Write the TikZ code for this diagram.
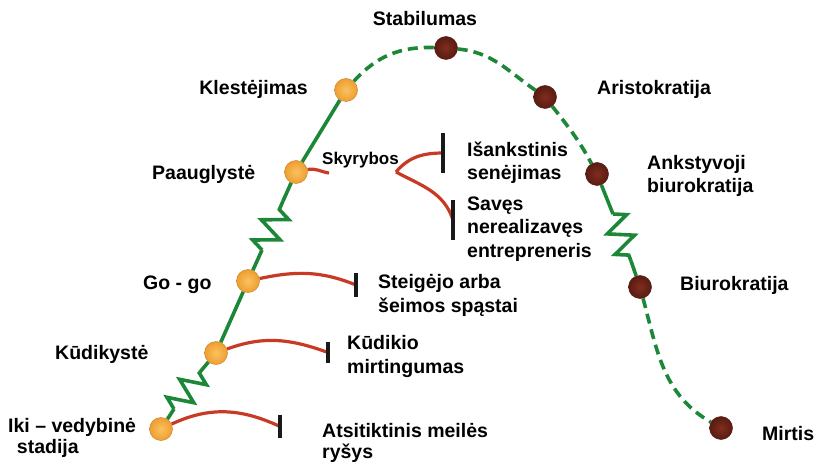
\documentclass[tikz,border=0pt]{standalone}
\usepackage{fontspec}
\setmainfont{Liberation Sans}
\usetikzlibrary{decorations.pathmorphing, backgrounds}

\definecolor{stemgreen}{RGB}{28,135,55}
\definecolor{trapred}{RGB}{200,58,36}
\definecolor{youngout}{RGB}{238,158,48}
\definecolor{youngin}{RGB}{250,194,96}
\definecolor{oldout}{RGB}{88,28,18}
\definecolor{oldin}{RGB}{130,44,30}

\begin{document}
\begin{tikzpicture}[
    x=1pt, y=1pt,
    young/.style={circle, minimum size=23pt, inner sep=0pt, draw=youngout!85!black, line width=0.5pt, inner color=youngin, outer color=youngout},
    old/.style={circle, minimum size=23pt, inner sep=0pt, draw=oldout, line width=0.5pt, inner color=oldin, outer color=oldout},
    growth/.style={stemgreen, line width=3.6pt},
    drift/.style={stemgreen, line width=3.6pt, dash pattern=on 10pt off 6pt},
    spring/.style={growth, decorate, decoration={zigzag, segment length=22pt, amplitude=12.5pt}},
    trap/.style={trapred, line width=3.2pt},
    stopbar/.style={black!90, line width=3.5pt},
    lbl/.style={inner sep=0pt, align=left, font=\fontsize{19.5}{23.5}\selectfont\bfseries}
]

\useasboundingbox (0,0) rectangle (818,464);

% =========================
% Stages on the curve
% =========================
\node[young] (iki)   at (161,35)  {};
\node[young] (kud)   at (216,111) {};
\node[young] (gogo)  at (248,183) {};
\node[young] (paaug) at (296,292) {};
\node[young] (klest) at (346,374) {};

\node[old] (stab)  at (446,416) {};
\node[old] (arist) at (545,367) {};
\node[old] (ankst) at (597,290) {};
\node[old] (biur)  at (640,177) {};
\node[old] (mirt)  at (721,36)  {};

% springs and trap ends
\coordinate (z1a) at (174,55);
\coordinate (z1b) at (200,92);
\coordinate (z2a) at (262,214);
\coordinate (z2b) at (283,263);
\coordinate (z3a) at (613,250);
\coordinate (z3b) at (631,203);

\coordinate (split) at (329,291);
\coordinate (fork)  at (396,292);

\coordinate (bar1) at (280,37.5);
\coordinate (bar2) at (328,111.5);
\coordinate (bar3) at (356,179);
\coordinate (bar4) at (443,311);
\coordinate (bar5) at (453,244);

% =========================
% Life cycle curve
% =========================
\begin{pgfonlayer}{background}
\draw[growth] (iki) -- (z1a);
\draw[spring] (z1a) -- (z1b);
\draw[growth] (z1b) -- (kud);
\draw[growth] (kud) -- (gogo);
\draw[growth] (gogo) -- (z2a);
\draw[spring] (z2a) -- (z2b);
\draw[growth] (z2b) -- (paaug);
\draw[growth] (paaug) -- (klest);

\draw[drift] (klest) to[out=48,in=178] (stab);
\draw[drift] (stab) to[out=-5,in=145] (arist);
\draw[drift] (arist) to[out=-52,in=118] (ankst);

\draw[growth] (ankst) -- (z3a);
\draw[spring] (z3a) -- (z3b);
\draw[growth] (z3b) -- (biur);
\draw[drift] (biur) to[out=-75,in=150] (mirt);

% =========================
% Traps
% =========================
\draw[trap] (iki) to[out=25,in=155] (bar1);
\draw[trap] (kud) to[out=20,in=160] (bar2);
\draw[trap] (gogo) to[out=12,in=158] (bar3);
\draw[trap] (paaug) to[out=12,in=172] (split);
\draw[trap] (fork) to[out=50,in=180] (bar4);
\draw[trap] (fork) to[out=-28,in=108] (bar5);
\end{pgfonlayer}

\foreach \b/\h in {bar1/23, bar2/21, bar3/24, bar4/40, bar5/40}
{
    \draw[stopbar] (\b) ++(0,-\h/2) -- ++(0,\h);
}

% =========================
% Labels (base = last line)
% =========================
\node[lbl, anchor=base] (tStab) at (425,438) {Stabilumas};
\node[lbl, anchor=base east] (tKlest) at (308,369) {Klestėjimas};
\node[lbl, anchor=base west] (tPaaug) at (152,284) {Paauglystė};
\node[lbl, anchor=base west, font=\fontsize{17}{20}\selectfont\bfseries] (tSkyr) at (322,299) {Skyrybos};
\node[lbl, anchor=base west] (tGogo) at (143,175) {Go - go};
\node[lbl, anchor=base west] (tKud) at (55,105) {Kūdikystė};
\node[lbl, anchor=base west, font=\fontsize{19.5}{21}\selectfont\bfseries] (tIki) at (8,11) {Iki – vedybinė\\\hspace*{0.45em}stadija};

\node[lbl, anchor=base west] (tIsank) at (467,284) {Išankstinis\\senėjimas};
\node[lbl, anchor=base west] (tSaves) at (467,207) {Savęs\\nerealizavęs\\entrepreneris};
\node[lbl, anchor=base west] (tSteig) at (378,152) {Steigėjo arba\\šeimos spąstai};
\node[lbl, anchor=base west] (tKudM) at (347,91) {Kūdikio\\mirtingumas};
\node[lbl, anchor=base west, font=\fontsize{19.5}{21}\selectfont\bfseries] (tAts) at (322,6) {Atsitiktinis meilės\\ryšys};

\node[lbl, anchor=base west] (tArist) at (597,369) {Aristokratija};
\node[lbl, anchor=base west] (tAnkst) at (647,271) {Ankstyvoji\\biurokratija};
\node[lbl, anchor=base west] (tBiur) at (680,174) {Biurokratija};
\node[lbl, anchor=base west] (tMirt) at (762,24) {Mirtis};

\end{tikzpicture}
\end{document}
